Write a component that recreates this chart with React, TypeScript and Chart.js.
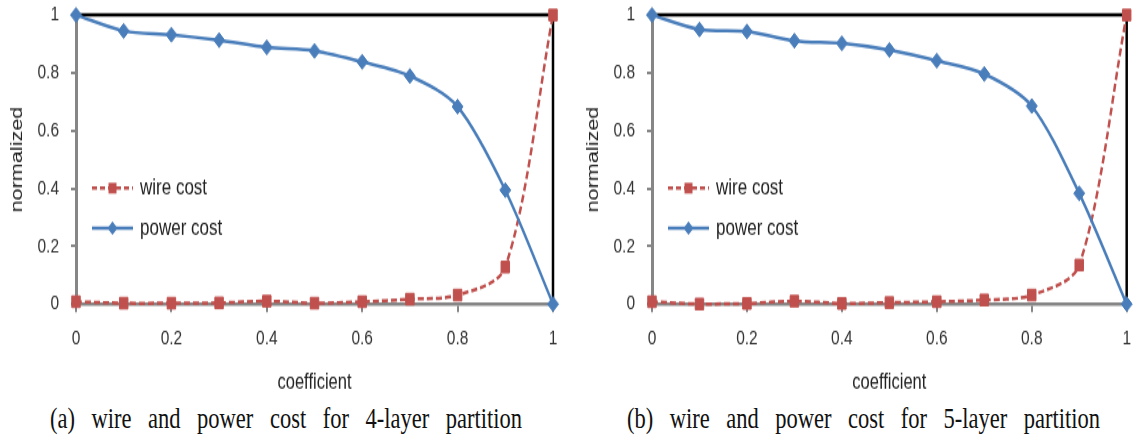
import React, { useEffect, useRef } from 'react';
import { Chart, registerables } from 'chart.js';

Chart.register(...registerables);

// ---------------- data ----------------
const coefficients = [0, 0.1, 0.2, 0.3, 0.4, 0.5, 0.6, 0.7, 0.8, 0.9, 1];
const wireCostA = [0.008, 0.003, 0.003, 0.004, 0.01, 0.003, 0.008, 0.017, 0.031, 0.128, 1];
const powerCostA = [1, 0.945, 0.932, 0.913, 0.888, 0.876, 0.838, 0.789, 0.683, 0.394, 0];
const wireCostB = [0.008, 0.0, 0.002, 0.01, 0.002, 0.005, 0.008, 0.014, 0.031, 0.135, 1];
const powerCostB = [1, 0.95, 0.943, 0.911, 0.902, 0.879, 0.842, 0.796, 0.685, 0.383, 0];
const xTicks = [0, 0.2, 0.4, 0.6, 0.8, 1];
const yTicks = [0, 0.2, 0.4, 0.6, 0.8, 1];
const seriesNames = ['wire cost', 'power cost'];
const xTitle = 'coefficient';
const yTitle = 'normalized';
const captionA = '(a) wire and power cost for 4-layer partition';
const captionB = '(b) wire and power cost for 5-layer partition';

// ---------------- style ----------------
const RED = '#C0504D';
const BLUE = '#4A7EBB';
const AXIS = '#868686';
const SANS = '"Liberation Sans", Arial, sans-serif';
const SERIF = '"Liberation Serif", "Times New Roman", serif';
const STRETCH = 1.35;

const framePlugin = {
  id: 'frame',
  beforeDatasetsDraw(chart: any) {
    const { ctx, chartArea } = chart;
    const { left, right, top, bottom } = chartArea;
    ctx.save();
    ctx.strokeStyle = '#000';
    ctx.lineWidth = 2.5;
    ctx.beginPath();
    ctx.moveTo(left, top);
    ctx.lineTo(right, top);
    ctx.lineTo(right, bottom);
    ctx.stroke();
    ctx.restore();
  },
};

const legendPlugin = {
  id: 'inlineLegend',
  afterDatasetsDraw(chart: any) {
    const { ctx, chartArea } = chart;
    const yScale = chart.scales.y;
    const left = chartArea.left;
    const rows = [
      { label: seriesNames[0], color: RED, dash: [5, 3], marker: 'square', y: yScale.getPixelForValue(0.401) },
      { label: seriesNames[1], color: BLUE, dash: [], marker: 'diamond', y: yScale.getPixelForValue(0.262) },
    ];
    ctx.save();
    rows.forEach((r) => {
      const x0 = left + 16;
      const x1 = left + 57;
      const xm = (x0 + x1) / 2;
      ctx.strokeStyle = r.color;
      ctx.lineWidth = 2.5;
      ctx.setLineDash(r.dash);
      ctx.beginPath();
      ctx.moveTo(x0, r.y);
      ctx.lineTo(x1, r.y);
      ctx.stroke();
      ctx.setLineDash([]);
      ctx.fillStyle = r.color;
      ctx.beginPath();
      if (r.marker === 'square') {
        ctx.rect(xm - 4, r.y - 4, 8, 8);
      } else {
        ctx.moveTo(xm, r.y - 5);
        ctx.lineTo(xm + 5, r.y);
        ctx.lineTo(xm, r.y + 5);
        ctx.lineTo(xm - 5, r.y);
        ctx.closePath();
      }
      ctx.fill();
      ctx.fillStyle = '#222';
      ctx.font = `17px ${SANS}`;
      ctx.textAlign = 'left';
      ctx.textBaseline = 'middle';
      ctx.fillText(r.label, left + 64, r.y);
    });
    ctx.restore();
  },
};

function makeConfig(wire: number[], power: number[], rightPad: number): any {
  return {
    type: 'line',
    data: {
      datasets: [
        {
          label: seriesNames[0],
          data: coefficients.map((c, i) => ({ x: c, y: wire[i] })),
          borderColor: RED,
          backgroundColor: RED,
          borderWidth: 2.5,
          borderDash: [6, 3],
          pointStyle: 'rect',
          pointRadius: 6,
          pointBorderWidth: 1,
          pointBackgroundColor: RED,
          pointBorderColor: RED,
          tension: 0.3,
          clip: false,
          order: 1,
        },
        {
          label: seriesNames[1],
          data: coefficients.map((c, i) => ({ x: c, y: power[i] })),
          borderColor: BLUE,
          backgroundColor: BLUE,
          borderWidth: 2.5,
          pointStyle: 'rectRot',
          pointRadius: 5.5,
          pointBorderWidth: 1,
          pointBackgroundColor: BLUE,
          pointBorderColor: BLUE,
          tension: 0.3,
          clip: false,
          order: 0,
        },
      ],
    },
    options: {
      responsive: false,
      animation: false,
      devicePixelRatio: 1,
      layout: { padding: { top: 11.1, right: rightPad, bottom: 0, left: 0 } },
      plugins: {
        legend: { display: false },
        tooltip: { enabled: false },
        title: { display: false },
      },
      scales: {
        x: {
          type: 'linear',
          min: 0,
          max: 1,
          afterBuildTicks: (scale: any) => {
            scale.ticks = xTicks.map((v) => ({ value: v }));
          },
          afterFit: (scale: any) => {
            scale.height = 67.8;
          },
          ticks: {
            padding: 10,
            color: '#333',
            font: { family: SANS, size: 15.5 },
            maxRotation: 0,
            autoSkip: false,
            callback: (v: any) => String(v),
          },
          grid: {
            drawOnChartArea: false,
            drawTicks: true,
            tickLength: 6,
            color: AXIS,
            lineWidth: 2,
          },
          border: { display: true, color: AXIS, width: 2.5 },
          title: {
            display: true,
            text: xTitle,
            color: '#222',
            font: { family: SANS, size: 16.5 },
            padding: { top: 0, bottom: 0 },
          },
        },
        y: {
          type: 'linear',
          min: 0,
          max: 1,
          afterBuildTicks: (scale: any) => {
            scale.ticks = yTicks.map((v) => ({ value: v }));
          },
          afterFit: (scale: any) => {
            scale.width = 76;
            scale.paddingTop = 0;
            scale.paddingBottom = 0;
          },
          ticks: {
            padding: 12,
            color: '#333',
            font: { family: SANS, size: 15.5 },
            autoSkip: false,
            callback: (v: any) => String(v),
          },
          grid: {
            drawOnChartArea: false,
            drawTicks: true,
            tickLength: 5,
            color: AXIS,
            lineWidth: 2,
          },
          border: { display: true, color: AXIS, width: 3 },
          title: {
            display: true,
            text: yTitle,
            color: '#222',
            font: { family: SANS, size: 16 },
            padding: { top: 8.4, bottom: 0 },
          },
        },
      },
    },
    plugins: [framePlugin, legendPlugin],
  };
}

function LineChart(props: { wire: number[]; power: number[]; rightPad: number; width: number; height: number; left: number }) {
  const ref = useRef<HTMLCanvasElement | null>(null);
  useEffect(() => {
    if (!ref.current) return;
    const chart = new Chart(ref.current, makeConfig(props.wire, props.power, props.rightPad));
    return () => chart.destroy();
  }, []);
  return (
    <canvas
      ref={ref}
      width={props.width}
      height={props.height}
      style={{ position: 'absolute', left: props.left, top: 0, width: props.width, height: props.height }}
    />
  );
}

function Caption(props: { text: string; left: number; width: number }) {
  return (
    <div
      style={{
        position: 'absolute',
        left: props.left,
        top: 298.6,
        width: props.width,
        fontFamily: SERIF,
        fontSize: 22.5,
        lineHeight: 1,
        color: '#111',
        textAlign: 'justify',
        textAlignLast: 'justify' as any,
        whiteSpace: 'nowrap',
      }}
    >
      {props.text}
    </div>
  );
}

export default function App() {
  return (
    <div
      style={{
        position: 'absolute',
        left: 0,
        top: 0,
        width: 1141,
        height: 441 / STRETCH,
        background: '#fff',
        transform: `scaleY(${STRETCH})`,
        transformOrigin: 'top left',
        overflow: 'hidden',
      }}
    >
      <LineChart wire={wireCostA} power={powerCostA} rightPad={17} width={570} height={293} left={0} />
      <LineChart wire={wireCostB} power={powerCostB} rightPad={9} width={565} height={293} left={576} />
      <Caption text={captionA} left={50} width={472} />
      <Caption text={captionB} left={627} width={473} />
    </div>
  );
}
